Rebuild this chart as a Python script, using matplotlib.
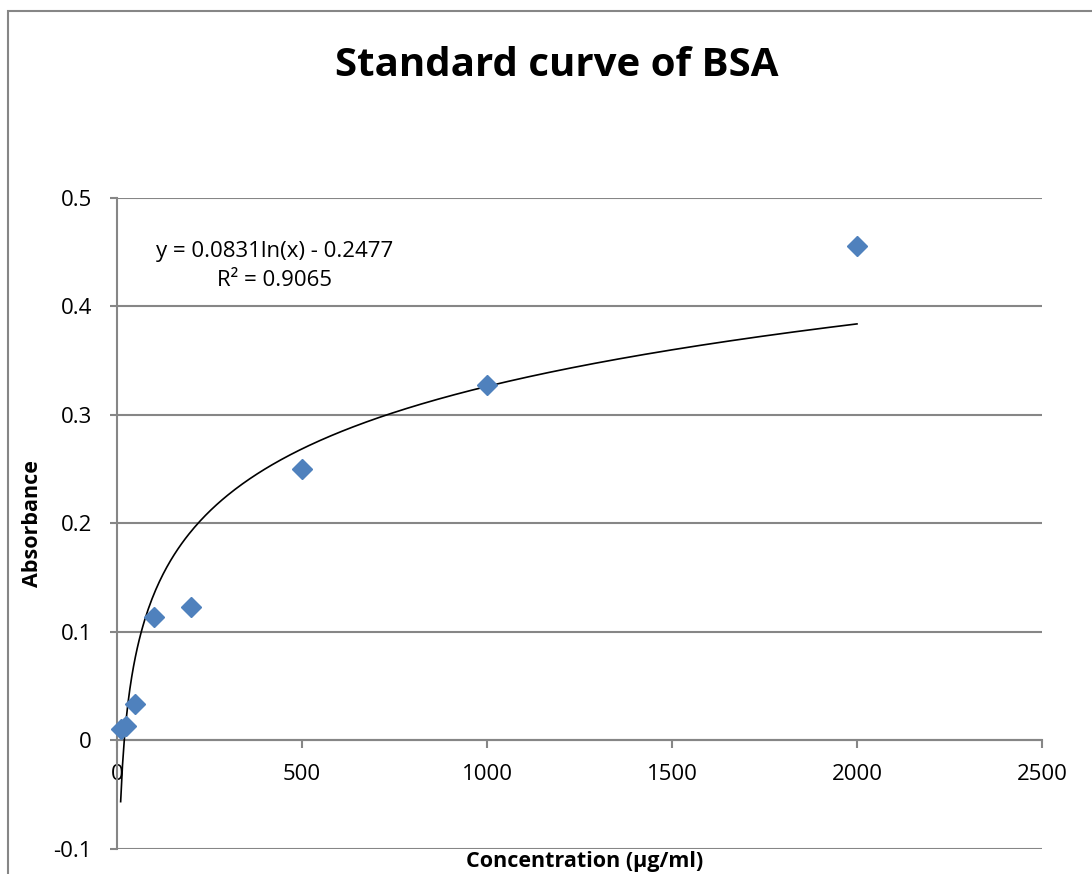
import numpy as np
import matplotlib
matplotlib.use("Agg")
import matplotlib.pyplot as plt
from matplotlib.patches import Rectangle

# BSA standard data
conc = [10, 25, 50, 100, 200, 500, 1000, 2000]
absorb = [0.011, 0.013, 0.034, 0.114, 0.123, 0.250, 0.328, 0.456]

# log trendline given on the chart
fit_a = 0.0831
fit_b = -0.2477
r2 = 0.9065
fit_x = np.linspace(10, 2000, 400)
fit_y = fit_a*np.log(fit_x) + fit_b

xticks = [0, 500, 1000, 1500, 2000, 2500]
yticks = [-0.1, 0, 0.1, 0.2, 0.3, 0.4, 0.5]

grey = '#868686'
blue = '#4F81BD'
plt.rcParams['font.family'] = ['Open Sans', 'DejaVu Sans']

fig = plt.figure(figsize=(10.92, 8.74), dpi=100)
ax = fig.add_axes([0.1071, 0.0286, 0.8471, 0.7449])

ax.plot(fit_x, fit_y, color='black', lw=1.2, zorder=3)
ax.plot(conc, absorb, 'D', color=blue, ms=10.5, mec=blue, zorder=4, clip_on=False)

ax.set_xlim(0, 2500)
ax.set_ylim(-0.1, 0.5)
ax.set_xticks(xticks)
ax.set_yticks(yticks)
ax.set_xticklabels([str(t) for t in xticks])
ax.set_yticklabels(['-0.1', '0', '0.1', '0.2', '0.3', '0.4', '0.5'])

ax.yaxis.grid(True, color=grey, lw=1.5)
ax.set_axisbelow(True)
for s in ['top', 'right']:
    ax.spines[s].set_visible(False)
ax.spines['left'].set_color(grey)
ax.spines['left'].set_linewidth(1.5)
ax.spines['bottom'].set_position(('data', 0))
ax.spines['bottom'].set_color(grey)
ax.spines['bottom'].set_linewidth(1.5)

ax.tick_params(axis='x', direction='out', length=6, width=1.5, color=grey,
               labelsize=16, pad=11)
ax.tick_params(axis='y', direction='out', length=5, width=1.5, color=grey,
               labelsize=16, pad=13)

ax.set_ylabel('Absorbance', fontsize=15.5, fontweight='bold')
ax.yaxis.set_label_coords(-0.080, 0.5)

fig.text(0.535, 1 - 861/874, 'Concentration (µg/ml)', fontsize=15.5,
         fontweight='bold', ha='center', va='center')
fig.text(0.510, 0.9256, 'Standard curve of BSA', fontsize=29,
         fontweight='bold', ha='center', va='center')
fig.text(0.2518, 1 - 266/874, 'y = 0.0831ln(x) - 0.2477\nR² = 0.9065',
         fontsize=16, ha='center', va='center', linespacing=1.5)

# chart area border (cut off at right and bottom)
fig.patches.append(Rectangle((8/1092, -0.05), 1.05, 1 - 11/874 + 0.05,
                             transform=fig.transFigure, fill=False,
                             edgecolor=grey, lw=1.5))

fig.savefig('out.png', dpi=100)
